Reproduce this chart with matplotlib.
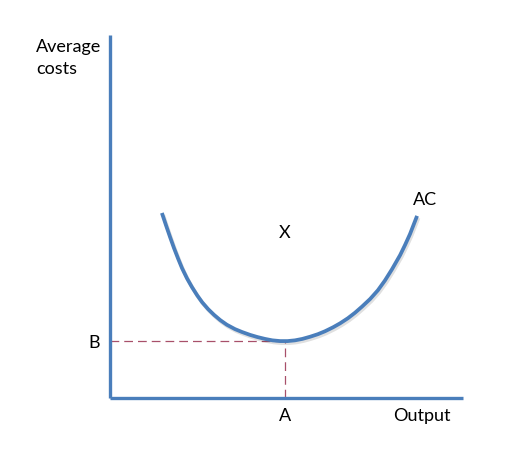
import matplotlib
matplotlib.use('Agg')
import matplotlib.pyplot as plt
import matplotlib.patheffects as pe

# average cost curve (output, cost)
output = [1.47, 1.59, 1.70, 1.81, 1.93, 2.04, 2.18, 2.32, 2.47, 2.61, 2.78,
          2.95, 3.12, 3.31, 3.54, 3.74, 3.97, 4.18, 4.39, 4.60, 4.82, 5.03,
          5.24, 5.45, 5.67, 5.89, 6.09, 6.32, 6.52, 6.74, 6.94, 7.14, 7.37,
          7.59, 7.79, 7.99, 8.22, 8.36, 8.50, 8.70]
avg_cost = [5.10, 4.75, 4.44, 4.14, 3.84, 3.58, 3.30, 3.06, 2.83, 2.64, 2.45,
            2.29, 2.15, 2.02, 1.90, 1.82, 1.74, 1.68, 1.63, 1.59, 1.57, 1.57,
            1.59, 1.63, 1.69, 1.76, 1.84, 1.95, 2.06, 2.20, 2.35, 2.52, 2.73,
            2.97, 3.24, 3.55, 3.94, 4.22, 4.52, 5.02]
min_output = 4.96   # A
min_cost = 1.57     # B
x_point = (4.96, 4.55)
ac_label = (8.92, 5.45)

plt.rcParams['font.family'] = ['Lato', 'DejaVu Sans']
blue = '#4a7ebb'
red = '#a8506a'

fig = plt.figure(figsize=(5.19, 4.57), dpi=100)
ax = fig.add_axes([0.212, 0.129, 0.680, 0.794])
ax.set_xlim(0, 10)
ax.set_ylim(0, 10)

for s in ['top', 'right']:
    ax.spines[s].set_visible(False)
for s in ['left', 'bottom']:
    ax.spines[s].set_color(blue)
    ax.spines[s].set_linewidth(2.4)
    ax.spines[s].set_capstyle('butt')

ax.plot([0, min_output], [min_cost, min_cost], color=red, lw=0.9, dashes=(7, 4))
ax.plot([min_output, min_output], [0, min_cost], color=red, lw=0.9, dashes=(7, 4))

ax.plot(output, avg_cost, color=blue, lw=2.7, solid_capstyle='butt',
        solid_joinstyle='round',
        path_effects=[pe.SimpleLineShadow(offset=(1, -1.5), alpha=0.12), pe.Normal()])

ax.set_xticks([min_output])
ax.set_xticklabels(['A'])
ax.set_yticks([min_cost])
ax.set_yticklabels(['B'])
ax.tick_params(length=0, labelsize=13, pad=7)

ax.text(x_point[0], x_point[1], 'X', fontsize=13, ha='center', va='center')
ax.text(ac_label[0], ac_label[1], 'AC', fontsize=13, ha='center', va='center')
ax.text(8.84, -0.5, 'Output', fontsize=13, ha='center', va='center')
fig.text(0.069, 0.915, 'Average\ncosts', fontsize=13, ha='left', va='top', linespacing=1.45)

fig.savefig('out.png', dpi=100)
